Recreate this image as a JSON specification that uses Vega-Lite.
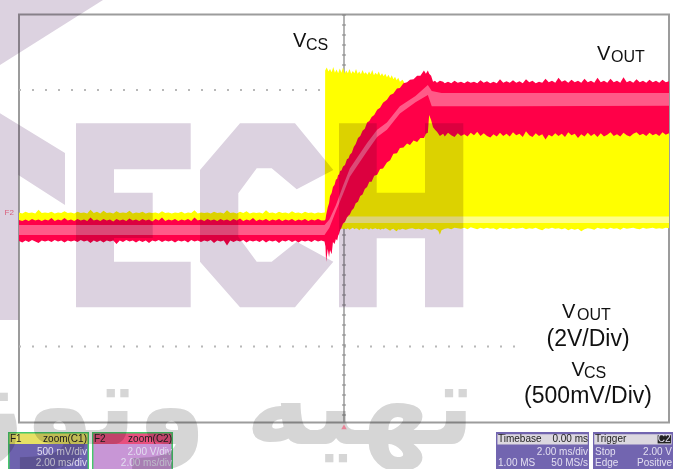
{
"$schema":"https://vega.github.io/schema/vega-lite/v6.json",
"width":650,"height":408,"autosize":"none",
"padding":{"left":19,"top":14.5,"right":7,"bottom":46.5},
"background":"white",
"view":{"stroke":"#9c9c9c","strokeWidth":2},
"datasets":{
"yellow":[
{"t":-10,"hi":0.12,"lo":-0.2},{"t":-9.9,"hi":0.1,"lo":-0.2},{"t":-9.8,"hi":0.13,"lo":-0.2},{"t":-9.7,"hi":0.11,"lo":-0.2},{"t":-9.6,"hi":0.12,"lo":-0.2},{"t":-9.5,"hi":0.1,"lo":-0.2},{"t":-9.4,"hi":0.17,"lo":-0.2},{"t":-9.3,"hi":0.11,"lo":-0.2},{"t":-9.2,"hi":0.12,"lo":-0.2},{"t":-9.1,"hi":0.11,"lo":-0.2},{"t":-9,"hi":0.13,"lo":-0.2},{"t":-8.9,"hi":0.1,"lo":-0.2},{"t":-8.8,"hi":0.12,"lo":-0.2},{"t":-8.7,"hi":0.11,"lo":-0.2},{"t":-8.6,"hi":0.14,"lo":-0.2},{"t":-8.5,"hi":0.11,"lo":-0.2},{"t":-8.4,"hi":0.12,"lo":-0.2},{"t":-8.3,"hi":0.1,"lo":-0.2},{"t":-8.2,"hi":0.13,"lo":-0.2},{"t":-8.1,"hi":0.11,"lo":-0.2},{"t":-8,"hi":0.12,"lo":-0.2},{"t":-7.9,"hi":0.1,"lo":-0.2},{"t":-7.8,"hi":0.17,"lo":-0.2},{"t":-7.7,"hi":0.11,"lo":-0.2},{"t":-7.6,"hi":0.13,"lo":-0.2},{"t":-7.5,"hi":0.1,"lo":-0.2},{"t":-7.4,"hi":0.15,"lo":-0.2},{"t":-7.3,"hi":0.11,"lo":-0.2},{"t":-7.2,"hi":0.12,"lo":-0.2},{"t":-7.1,"hi":0.1,"lo":-0.2},{"t":-7,"hi":0.14,"lo":-0.2},{"t":-6.9,"hi":0.11,"lo":-0.2},{"t":-6.8,"hi":0.12,"lo":-0.2},{"t":-6.7,"hi":0.11,"lo":-0.2},{"t":-6.6,"hi":0.15,"lo":-0.2},{"t":-6.5,"hi":0.1,"lo":-0.2},{"t":-6.4,"hi":0.12,"lo":-0.2},{"t":-6.3,"hi":0.11,"lo":-0.2},{"t":-6.2,"hi":0.13,"lo":-0.2},{"t":-6.1,"hi":0.1,"lo":-0.2},{"t":-6,"hi":0.12,"lo":-0.2},{"t":-5.9,"hi":0.11,"lo":-0.2},{"t":-5.8,"hi":0.12,"lo":-0.2},{"t":-5.7,"hi":0.1,"lo":-0.2},{"t":-5.6,"hi":0.14,"lo":-0.2},{"t":-5.5,"hi":0.11,"lo":-0.2},{"t":-5.4,"hi":0.12,"lo":-0.2},{"t":-5.3,"hi":0.1,"lo":-0.2},{"t":-5.2,"hi":0.12,"lo":-0.2},{"t":-5.1,"hi":0.11,"lo":-0.2},{"t":-5,"hi":0.13,"lo":-0.2},{"t":-4.9,"hi":0.1,"lo":-0.2},{"t":-4.8,"hi":0.12,"lo":-0.2},{"t":-4.7,"hi":0.11,"lo":-0.2},{"t":-4.6,"hi":0.16,"lo":-0.2},{"t":-4.5,"hi":0.1,"lo":-0.2},{"t":-4.4,"hi":0.12,"lo":-0.2},{"t":-4.3,"hi":0.11,"lo":-0.2},{"t":-4.2,"hi":0.12,"lo":-0.2},{"t":-4.1,"hi":0.1,"lo":-0.2},{"t":-4,"hi":0.13,"lo":-0.2},{"t":-3.9,"hi":0.11,"lo":-0.2},{"t":-3.8,"hi":0.12,"lo":-0.2},{"t":-3.7,"hi":0.1,"lo":-0.2},{"t":-3.6,"hi":0.16,"lo":-0.2},{"t":-3.5,"hi":0.11,"lo":-0.2},{"t":-3.4,"hi":0.12,"lo":-0.2},{"t":-3.3,"hi":0.1,"lo":-0.2},{"t":-3.2,"hi":0.13,"lo":-0.2},{"t":-3.1,"hi":0.11,"lo":-0.2},{"t":-3,"hi":0.14,"lo":-0.2},{"t":-2.9,"hi":0.1,"lo":-0.2},{"t":-2.8,"hi":0.12,"lo":-0.2},{"t":-2.7,"hi":0.11,"lo":-0.2},{"t":-2.6,"hi":0.12,"lo":-0.2},{"t":-2.5,"hi":0.1,"lo":-0.2},{"t":-2.4,"hi":0.16,"lo":-0.2},{"t":-2.3,"hi":0.11,"lo":-0.2},{"t":-2.2,"hi":0.12,"lo":-0.2},{"t":-2.1,"hi":0.1,"lo":-0.2},{"t":-2,"hi":0.13,"lo":-0.2},{"t":-1.9,"hi":0.11,"lo":-0.2},{"t":-1.8,"hi":0.12,"lo":-0.2},{"t":-1.7,"hi":0.1,"lo":-0.2},{"t":-1.6,"hi":0.14,"lo":-0.2},{"t":-1.5,"hi":0.11,"lo":-0.2},{"t":-1.4,"hi":0.12,"lo":-0.2},{"t":-1.3,"hi":0.1,"lo":-0.2},{"t":-1.2,"hi":0.13,"lo":-0.2},{"t":-1.1,"hi":0.11,"lo":-0.2},{"t":-1,"hi":0.12,"lo":-0.2},{"t":-0.9,"hi":0.1,"lo":-0.2},{"t":-0.8,"hi":0.12,"lo":-0.2},{"t":-0.7,"hi":0.11,"lo":-0.2},{"t":-0.6,"hi":0.12,"lo":-0.2},
{"t":-0.59,"hi":0.12,"lo":-0.2},{"t":-0.58,"hi":2.9,"lo":-0.2},{"t":-0.53,"hi":2.96,"lo":-0.2},{"t":-0.48,"hi":2.88,"lo":-0.2},{"t":-0.43,"hi":2.93,"lo":-0.2},{"t":-0.38,"hi":2.87,"lo":-0.2},{"t":-0.33,"hi":2.97,"lo":-0.2},{"t":-0.28,"hi":2.86,"lo":-0.2},{"t":-0.23,"hi":2.92,"lo":-0.2},{"t":-0.18,"hi":2.85,"lo":-0.21},{"t":-0.13,"hi":2.94,"lo":-0.2},{"t":-0.08,"hi":2.86,"lo":-0.2},{"t":-0.03,"hi":2.96,"lo":-0.2},{"t":0.02,"hi":2.84,"lo":-0.2},{"t":0.07,"hi":2.9,"lo":-0.21},{"t":0.12,"hi":2.85,"lo":-0.19},{"t":0.17,"hi":2.93,"lo":-0.22},{"t":0.22,"hi":2.84,"lo":-0.2},{"t":0.27,"hi":2.89,"lo":-0.18},{"t":0.32,"hi":2.85,"lo":-0.21},{"t":0.37,"hi":2.93,"lo":-0.19},{"t":0.42,"hi":2.84,"lo":-0.2},{"t":0.47,"hi":2.88,"lo":-0.23},{"t":0.52,"hi":2.83,"lo":-0.19},{"t":0.57,"hi":2.91,"lo":-0.21},{"t":0.62,"hi":2.84,"lo":-0.2},{"t":0.67,"hi":2.87,"lo":-0.19},{"t":0.72,"hi":2.82,"lo":-0.2},{"t":0.77,"hi":2.88,"lo":-0.22},{"t":0.82,"hi":2.83,"lo":-0.19},{"t":0.87,"hi":2.91,"lo":-0.21},{"t":0.92,"hi":2.81,"lo":-0.2},{"t":0.97,"hi":2.86,"lo":-0.19},{"t":1.02,"hi":2.82,"lo":-0.21},{"t":1.07,"hi":2.88,"lo":-0.2},{"t":1.12,"hi":2.8,"lo":-0.22},{"t":1.17,"hi":2.85,"lo":-0.2},{"t":1.22,"hi":2.79,"lo":-0.21},{"t":1.27,"hi":2.84,"lo":-0.19},{"t":1.32,"hi":2.77,"lo":-0.2},{"t":1.37,"hi":2.82,"lo":-0.22},{"t":1.42,"hi":2.75,"lo":-0.24},{"t":1.47,"hi":2.81,"lo":-0.21},{"t":1.52,"hi":2.73,"lo":-0.2},{"t":1.57,"hi":2.78,"lo":-0.23},{"t":1.62,"hi":2.71,"lo":-0.25},{"t":1.67,"hi":2.76,"lo":-0.21},{"t":1.72,"hi":2.68,"lo":-0.22},{"t":1.8,"hi":2.72,"lo":-0.2},{"t":1.9,"hi":2.62,"lo":-0.22},{"t":2,"hi":2.6,"lo":-0.2},{"t":2.1,"hi":2.55,"lo":-0.19},{"t":2.2,"hi":2.3,"lo":-0.21},{"t":2.3,"hi":2.3,"lo":-0.2},{"t":2.4,"hi":2.3,"lo":-0.22},{"t":2.5,"hi":2.3,"lo":-0.19},{"t":2.6,"hi":2.3,"lo":-0.21},{"t":2.7,"hi":2.3,"lo":-0.22},{"t":2.8,"hi":2.3,"lo":-0.2},{"t":2.9,"hi":2.3,"lo":-0.24},{"t":2.95,"hi":2.3,"lo":-0.32},{"t":3,"hi":2.3,"lo":-0.23},{"t":3.1,"hi":2.3,"lo":-0.2},{"t":3.2,"hi":2.3,"lo":-0.19},{"t":3.3,"hi":2.3,"lo":-0.21},{"t":3.4,"hi":2.3,"lo":-0.18},{"t":3.5,"hi":2.3,"lo":-0.19},{"t":3.6,"hi":2.3,"lo":-0.2},{"t":3.7,"hi":2.3,"lo":-0.18},{"t":3.8,"hi":2.3,"lo":-0.21},{"t":3.9,"hi":2.3,"lo":-0.17},{"t":4,"hi":2.3,"lo":-0.19},{"t":4.1,"hi":2.3,"lo":-0.21},{"t":4.2,"hi":2.3,"lo":-0.18},{"t":4.3,"hi":2.3,"lo":-0.2},{"t":4.4,"hi":2.3,"lo":-0.18},{"t":4.5,"hi":2.3,"lo":-0.2},{"t":4.6,"hi":2.3,"lo":-0.19},{"t":4.7,"hi":2.3,"lo":-0.22},{"t":4.8,"hi":2.3,"lo":-0.18},{"t":4.9,"hi":2.3,"lo":-0.2},{"t":5,"hi":2.3,"lo":-0.19},{"t":5.1,"hi":2.3,"lo":-0.21},{"t":5.2,"hi":2.3,"lo":-0.18},{"t":5.3,"hi":2.3,"lo":-0.2},{"t":5.4,"hi":2.3,"lo":-0.19},{"t":5.5,"hi":2.3,"lo":-0.18},{"t":5.6,"hi":2.3,"lo":-0.21},{"t":5.7,"hi":2.3,"lo":-0.19},{"t":5.8,"hi":2.3,"lo":-0.2},{"t":5.9,"hi":2.3,"lo":-0.18},{"t":6,"hi":2.3,"lo":-0.21},{"t":6.1,"hi":2.3,"lo":-0.23},{"t":6.2,"hi":2.3,"lo":-0.19},{"t":6.3,"hi":2.3,"lo":-0.2},{"t":6.4,"hi":2.3,"lo":-0.18},{"t":6.5,"hi":2.3,"lo":-0.2},{"t":6.6,"hi":2.3,"lo":-0.19},{"t":6.7,"hi":2.3,"lo":-0.21},{"t":6.8,"hi":2.3,"lo":-0.19},{"t":6.9,"hi":2.3,"lo":-0.23},{"t":7,"hi":2.3,"lo":-0.2},{"t":7.1,"hi":2.3,"lo":-0.22},{"t":7.2,"hi":2.3,"lo":-0.2},{"t":7.3,"hi":2.3,"lo":-0.25},{"t":7.4,"hi":2.3,"lo":-0.21},{"t":7.5,"hi":2.3,"lo":-0.19},{"t":7.6,"hi":2.3,"lo":-0.2},{"t":7.7,"hi":2.3,"lo":-0.22},{"t":7.8,"hi":2.3,"lo":-0.18},{"t":7.9,"hi":2.3,"lo":-0.2},{"t":8,"hi":2.3,"lo":-0.19},{"t":8.1,"hi":2.3,"lo":-0.21},{"t":8.2,"hi":2.3,"lo":-0.18},{"t":8.3,"hi":2.3,"lo":-0.2},{"t":8.4,"hi":2.3,"lo":-0.19},{"t":8.5,"hi":2.3,"lo":-0.22},{"t":8.6,"hi":2.3,"lo":-0.18},{"t":8.7,"hi":2.3,"lo":-0.2},{"t":8.8,"hi":2.3,"lo":-0.19},{"t":8.9,"hi":2.3,"lo":-0.18},{"t":9,"hi":2.3,"lo":-0.2},{"t":9.1,"hi":2.3,"lo":-0.21},{"t":9.2,"hi":2.3,"lo":-0.18},{"t":9.3,"hi":2.3,"lo":-0.2},{"t":9.4,"hi":2.3,"lo":-0.19},{"t":9.5,"hi":2.3,"lo":-0.18},{"t":9.6,"hi":2.3,"lo":-0.2},{"t":9.7,"hi":2.3,"lo":-0.19},{"t":9.8,"hi":2.3,"lo":-0.2},{"t":9.9,"hi":2.3,"lo":-0.18},{"t":10,"hi":2.3,"lo":-0.19}],
"paleBand":[{"t":-0.1,"t2":10,"v":0.04,"v2":-0.09}],
"red":[
{"t":-10,"hi":-0.03,"lo":-0.44},{"t":-9.9,"hi":-0.05,"lo":-0.47},{"t":-9.8,"hi":-0.02,"lo":-0.43},{"t":-9.7,"hi":-0.05,"lo":-0.46},{"t":-9.6,"hi":-0.01,"lo":-0.42},{"t":-9.5,"hi":-0.04,"lo":-0.45},{"t":-9.4,"hi":-0.02,"lo":-0.48},{"t":-9.3,"hi":-0.05,"lo":-0.43},{"t":-9.2,"hi":-0.02,"lo":-0.45},{"t":-9.1,"hi":-0.04,"lo":-0.43},{"t":-9,"hi":0.01,"lo":-0.46},{"t":-8.9,"hi":-0.05,"lo":-0.42},{"t":-8.8,"hi":-0.02,"lo":-0.45},{"t":-8.7,"hi":-0.04,"lo":-0.43},{"t":-8.6,"hi":0.01,"lo":-0.47},{"t":-8.5,"hi":-0.04,"lo":-0.43},{"t":-8.4,"hi":-0.02,"lo":-0.45},{"t":-8.3,"hi":-0.05,"lo":-0.43},{"t":-8.2,"hi":-0.01,"lo":-0.46},{"t":-8.1,"hi":-0.04,"lo":-0.42},{"t":-8,"hi":-0.02,"lo":-0.45},{"t":-7.9,"hi":-0.05,"lo":-0.43},{"t":-7.8,"hi":0.02,"lo":-0.48},{"t":-7.7,"hi":-0.04,"lo":-0.43},{"t":-7.6,"hi":-0.02,"lo":-0.46},{"t":-7.5,"hi":-0.05,"lo":-0.43},{"t":-7.4,"hi":-0.01,"lo":-0.47},{"t":-7.3,"hi":-0.04,"lo":-0.43},{"t":-7.2,"hi":-0.02,"lo":-0.45},{"t":-7.1,"hi":-0.06,"lo":-0.43},{"t":-7,"hi":-0.01,"lo":-0.5},{"t":-6.9,"hi":-0.04,"lo":-0.43},{"t":-6.8,"hi":-0.02,"lo":-0.46},{"t":-6.7,"hi":-0.05,"lo":-0.42},{"t":-6.6,"hi":0,"lo":-0.45},{"t":-6.5,"hi":-0.04,"lo":-0.43},{"t":-6.4,"hi":-0.02,"lo":-0.47},{"t":-6.3,"hi":-0.05,"lo":-0.43},{"t":-6.2,"hi":-0.01,"lo":-0.46},{"t":-6.1,"hi":-0.04,"lo":-0.43},{"t":-6,"hi":-0.02,"lo":-0.48},{"t":-5.9,"hi":-0.06,"lo":-0.43},{"t":-5.8,"hi":-0.01,"lo":-0.45},{"t":-5.7,"hi":-0.04,"lo":-0.42},{"t":-5.6,"hi":0.02,"lo":-0.46},{"t":-5.5,"hi":-0.05,"lo":-0.43},{"t":-5.4,"hi":-0.02,"lo":-0.45},{"t":-5.3,"hi":-0.04,"lo":-0.43},{"t":-5.2,"hi":-0.01,"lo":-0.47},{"t":-5.1,"hi":-0.05,"lo":-0.43},{"t":-5,"hi":-0.02,"lo":-0.45},{"t":-4.9,"hi":-0.04,"lo":-0.43},{"t":-4.8,"hi":-0.01,"lo":-0.47},{"t":-4.7,"hi":-0.05,"lo":-0.42},{"t":-4.6,"hi":0.02,"lo":-0.45},{"t":-4.5,"hi":-0.04,"lo":-0.43},{"t":-4.4,"hi":-0.02,"lo":-0.46},{"t":-4.3,"hi":-0.05,"lo":-0.43},{"t":-4.2,"hi":-0.01,"lo":-0.45},{"t":-4.1,"hi":-0.04,"lo":-0.42},{"t":-4,"hi":-0.02,"lo":-0.48},{"t":-3.9,"hi":-0.05,"lo":-0.43},{"t":-3.8,"hi":-0.01,"lo":-0.45},{"t":-3.7,"hi":-0.04,"lo":-0.43},{"t":-3.6,"hi":-0.02,"lo":-0.53},{"t":-3.5,"hi":-0.05,"lo":-0.43},{"t":-3.4,"hi":-0.01,"lo":-0.46},{"t":-3.3,"hi":-0.04,"lo":-0.43},{"t":-3.2,"hi":0,"lo":-0.45},{"t":-3.1,"hi":-0.05,"lo":-0.42},{"t":-3,"hi":-0.02,"lo":-0.47},{"t":-2.9,"hi":-0.04,"lo":-0.43},{"t":-2.8,"hi":0.01,"lo":-0.45},{"t":-2.7,"hi":-0.05,"lo":-0.43},{"t":-2.6,"hi":-0.02,"lo":-0.46},{"t":-2.5,"hi":-0.04,"lo":-0.42},{"t":-2.4,"hi":-0.01,"lo":-0.47},{"t":-2.3,"hi":-0.05,"lo":-0.43},{"t":-2.2,"hi":-0.02,"lo":-0.45},{"t":-2.1,"hi":-0.04,"lo":-0.43},{"t":-2,"hi":-0.01,"lo":-0.48},{"t":-1.9,"hi":-0.05,"lo":-0.43},{"t":-1.8,"hi":-0.02,"lo":-0.45},{"t":-1.7,"hi":-0.04,"lo":-0.42},{"t":-1.6,"hi":-0.01,"lo":-0.46},{"t":-1.5,"hi":-0.05,"lo":-0.43},{"t":-1.4,"hi":-0.02,"lo":-0.47},{"t":-1.3,"hi":-0.04,"lo":-0.43},{"t":-1.2,"hi":-0.01,"lo":-0.45},{"t":-1.1,"hi":-0.05,"lo":-0.43},{"t":-1,"hi":-0.02,"lo":-0.46},{"t":-0.9,"hi":-0.04,"lo":-0.42},{"t":-0.8,"hi":-0.01,"lo":-0.45},{"t":-0.7,"hi":-0.04,"lo":-0.43},
{"t":-0.6,"hi":-0.04,"lo":-0.45},{"t":-0.57,"hi":-0.02,"lo":-0.55},{"t":-0.55,"hi":0.07,"lo":-0.85},{"t":-0.5,"hi":0.22,"lo":-0.6},{"t":-0.46,"hi":0.3,"lo":-0.76},{"t":-0.43,"hi":0.44,"lo":-0.62},{"t":-0.38,"hi":0.5,"lo":-0.7},{"t":-0.34,"hi":0.62,"lo":-0.46},{"t":-0.29,"hi":0.66,"lo":-0.5},{"t":-0.25,"hi":0.76,"lo":-0.4},{"t":-0.21,"hi":0.78,"lo":-0.43},{"t":-0.18,"hi":0.86,"lo":-0.34},{"t":-0.15,"hi":0.86,"lo":-0.3},{"t":-0.12,"hi":0.93,"lo":-0.23},{"t":-0.08,"hi":0.94,"lo":-0.18},{"t":-0.03,"hi":1.02,"lo":-0.1},{"t":0.03,"hi":1.05,"lo":-0.07},{"t":0.09,"hi":1.16,"lo":0.02},{"t":0.14,"hi":1.18,"lo":0.06},{"t":0.18,"hi":1.25,"lo":0.08},{"t":0.24,"hi":1.29,"lo":0.16},{"t":0.3,"hi":1.4,"lo":0.2},{"t":0.36,"hi":1.46,"lo":0.3},{"t":0.43,"hi":1.58,"lo":0.33},{"t":0.5,"hi":1.62,"lo":0.44},{"t":0.57,"hi":1.72,"lo":0.47},{"t":0.64,"hi":1.76,"lo":0.58},{"t":0.71,"hi":1.88,"lo":0.62},{"t":0.78,"hi":1.91,"lo":0.72},{"t":0.85,"hi":1.99,"lo":0.72},{"t":0.93,"hi":2.03,"lo":0.84},{"t":1.02,"hi":2.13,"lo":0.86},{"t":1.11,"hi":2.17,"lo":0.97},{"t":1.2,"hi":2.27,"lo":0.98},{"t":1.32,"hi":2.33,"lo":1.1},{"t":1.42,"hi":2.42,"lo":1.14},{"t":1.52,"hi":2.45,"lo":1.27},{"t":1.63,"hi":2.55,"lo":1.28},{"t":1.72,"hi":2.56,"lo":1.38},{"t":1.83,"hi":2.65,"lo":1.39},{"t":1.94,"hi":2.67,"lo":1.47},{"t":2.03,"hi":2.72,"lo":1.44},{"t":2.14,"hi":2.73,"lo":1.53},{"t":2.25,"hi":2.8,"lo":1.5},{"t":2.35,"hi":2.8,"lo":1.58},{"t":2.46,"hi":2.9,"lo":1.58},{"t":2.52,"hi":2.84,"lo":1.66},{"t":2.58,"hi":2.9,"lo":1.68},{"t":2.62,"hi":2.84,"lo":2.03},{"t":2.68,"hi":2.8,"lo":1.93},{"t":2.74,"hi":2.68,"lo":1.79},{"t":2.8,"hi":2.7,"lo":1.74},{"t":2.86,"hi":2.66,"lo":1.7},{"t":2.95,"hi":2.7,"lo":1.62},{"t":3.05,"hi":2.68,"lo":1.66},
{"t":3.1,"hi":2.65,"lo":1.61},{"t":3.2,"hi":2.68,"lo":1.68},{"t":3.3,"hi":2.65,"lo":1.63},{"t":3.4,"hi":2.7,"lo":1.6},{"t":3.5,"hi":2.66,"lo":1.67},{"t":3.6,"hi":2.68,"lo":1.62},{"t":3.7,"hi":2.65,"lo":1.65},{"t":3.8,"hi":2.69,"lo":1.61},{"t":3.9,"hi":2.66,"lo":1.68},{"t":4,"hi":2.68,"lo":1.63},{"t":4.1,"hi":2.65,"lo":1.7},{"t":4.2,"hi":2.71,"lo":1.62},{"t":4.3,"hi":2.66,"lo":1.67},{"t":4.4,"hi":2.69,"lo":1.62},{"t":4.5,"hi":2.65,"lo":1.59},{"t":4.6,"hi":2.68,"lo":1.65},{"t":4.7,"hi":2.65,"lo":1.61},{"t":4.8,"hi":2.73,"lo":1.68},{"t":4.9,"hi":2.66,"lo":1.62},{"t":5,"hi":2.69,"lo":1.66},{"t":5.1,"hi":2.66,"lo":1.61},{"t":5.2,"hi":2.71,"lo":1.69},{"t":5.3,"hi":2.66,"lo":1.63},{"t":5.4,"hi":2.69,"lo":1.66},{"t":5.5,"hi":2.65,"lo":1.6},{"t":5.6,"hi":2.73,"lo":1.71},{"t":5.7,"hi":2.67,"lo":1.63},{"t":5.8,"hi":2.7,"lo":1.6},{"t":5.9,"hi":2.65,"lo":1.67},{"t":6,"hi":2.68,"lo":1.62},{"t":6.1,"hi":2.66,"lo":1.65},{"t":6.2,"hi":2.74,"lo":1.55},{"t":6.3,"hi":2.67,"lo":1.64},{"t":6.4,"hi":2.7,"lo":1.61},{"t":6.5,"hi":2.66,"lo":1.67},{"t":6.6,"hi":2.76,"lo":1.62},{"t":6.7,"hi":2.68,"lo":1.66},{"t":6.8,"hi":2.71,"lo":1.6},{"t":6.9,"hi":2.66,"lo":1.69},{"t":7,"hi":2.72,"lo":1.63},{"t":7.1,"hi":2.67,"lo":1.66},{"t":7.2,"hi":2.7,"lo":1.58},{"t":7.3,"hi":2.66,"lo":1.65},{"t":7.4,"hi":2.74,"lo":1.61},{"t":7.5,"hi":2.67,"lo":1.68},{"t":7.6,"hi":2.7,"lo":1.62},{"t":7.7,"hi":2.66,"lo":1.66},{"t":7.8,"hi":2.76,"lo":1.6},{"t":7.9,"hi":2.67,"lo":1.67},{"t":8,"hi":2.7,"lo":1.61},{"t":8.1,"hi":2.66,"lo":1.64},{"t":8.2,"hi":2.74,"lo":1.69},{"t":8.3,"hi":2.67,"lo":1.62},{"t":8.4,"hi":2.7,"lo":1.65},{"t":8.5,"hi":2.66,"lo":1.61},{"t":8.6,"hi":2.77,"lo":1.68},{"t":8.7,"hi":2.67,"lo":1.63},{"t":8.8,"hi":2.7,"lo":1.61},{"t":8.9,"hi":2.66,"lo":1.66},{"t":9,"hi":2.73,"lo":1.69},{"t":9.1,"hi":2.67,"lo":1.63},{"t":9.2,"hi":2.7,"lo":1.66},{"t":9.3,"hi":2.66,"lo":1.62},{"t":9.4,"hi":2.72,"lo":1.68},{"t":9.5,"hi":2.67,"lo":1.63},{"t":9.6,"hi":2.7,"lo":1.66},{"t":9.7,"hi":2.66,"lo":1.62},{"t":9.8,"hi":2.72,"lo":1.69},{"t":9.9,"hi":2.67,"lo":1.64},{"t":10,"hi":2.69,"lo":1.67}],
"pink":[{"t":-10,"hi":-0.127,"lo":-0.323},{"t":-0.6,"hi":-0.127,"lo":-0.323},{"t":-0.45,"hi":-0.02,"lo":-0.18},{"t":-0.25,"hi":0.26,"lo":0.14},{"t":-0.03,"hi":0.64,"lo":0.48},{"t":0.18,"hi":0.98,"lo":0.82},{"t":0.71,"hi":1.48,"lo":1.32},{"t":1.02,"hi":1.74,"lo":1.6},{"t":1.32,"hi":1.88,"lo":1.74},{"t":1.72,"hi":2.2,"lo":2.06},{"t":2.2,"hi":2.4,"lo":2.28},{"t":2.58,"hi":2.62,"lo":2.42},{"t":2.7,"hi":2.5,"lo":2.2},{"t":3,"hi":2.46,"lo":2.2},{"t":10,"hi":2.46,"lo":2.21}],
"shapes":[
{"s":"corner","i":1,"t":-10.585,"v":4.284},{"s":"corner","i":2,"t":-7.415,"v":4.284},{"s":"corner","i":3,"t":-10.585,"v":3.01},
{"s":"N","i":1,"t":-10.585,"v":2.063},{"s":"N","i":2,"t":-8.585,"v":1.284},{"s":"N","i":3,"t":-8.585,"v":0.265},{"s":"N","i":4,"t":-10.02,"v":0.853},{"s":"N","i":5,"t":-10.02,"v":-1.99},{"s":"N","i":6,"t":-10.585,"v":-1.99},
{"s":"E","i":1,"t":-8.246,"v":1.867},{"s":"E","i":2,"t":-4.717,"v":1.867},{"s":"E","i":3,"t":-4.717,"v":0.965},{"s":"E","i":4,"t":-7.077,"v":0.965},{"s":"E","i":5,"t":-7.077,"v":0.506},{"s":"E","i":6,"t":-5.886,"v":0.506},{"s":"E","i":7,"t":-5.886,"v":-0.382},{"s":"E","i":8,"t":-7.077,"v":-0.382},{"s":"E","i":9,"t":-7.077,"v":-0.847},{"s":"E","i":10,"t":-4.717,"v":-0.847},{"s":"E","i":11,"t":-4.717,"v":-1.741},{"s":"E","i":12,"t":-8.246,"v":-1.741},
{"s":"C","i":1,"t":-3.2,"v":1.867},{"s":"C","i":2,"t":-1.508,"v":1.867},{"s":"C","i":3,"t":-0.329,"v":0.951},{"s":"C","i":4,"t":-1.455,"v":0.573},{"s":"C","i":5,"t":-2.225,"v":0.984},{"s":"C","i":6,"t":-2.686,"v":0.984},{"s":"C","i":7,"t":-3.252,"v":0.494},{"s":"C","i":8,"t":-3.252,"v":-0.357},{"s":"C","i":9,"t":-2.686,"v":-0.847},{"s":"C","i":10,"t":-2.225,"v":-0.847},{"s":"C","i":11,"t":-1.455,"v":-0.455},{"s":"C","i":12,"t":-0.329,"v":-0.847},{"s":"C","i":13,"t":-1.508,"v":-1.741},{"s":"C","i":14,"t":-3.2,"v":-1.741},{"s":"C","i":15,"t":-4.431,"v":-0.847},{"s":"C","i":16,"t":-4.431,"v":0.951},
{"s":"H","i":1,"t":-0.154,"v":1.867},{"s":"H","i":2,"t":1.006,"v":1.867},{"s":"H","i":3,"t":1.006,"v":0.506},{"s":"H","i":4,"t":2.492,"v":0.506},{"s":"H","i":5,"t":2.492,"v":1.867},{"s":"H","i":6,"t":3.671,"v":1.867},{"s":"H","i":7,"t":3.671,"v":-1.741},{"s":"H","i":8,"t":2.492,"v":-1.741},{"s":"H","i":9,"t":2.492,"v":-0.388},{"s":"H","i":10,"t":1.006,"v":-0.388},{"s":"H","i":11,"t":1.006,"v":-1.741},{"s":"H","i":12,"t":-0.154,"v":-1.741}],
"panels":[
{"part":"frame","t":-10.338,"t2":-7.846,"v":-4.186,"v2":-4.95},{"part":"frame","t":-7.754,"t2":-5.262,"v":-4.186,"v2":-4.95},
{"part":"F1 body","t":-10.29,"t2":-7.89,"v":-4.42,"v2":-4.95},{"part":"F1 head","t":-10.29,"t2":-7.89,"v":-4.216,"v2":-4.42},
{"part":"F2 body","t":-7.71,"t2":-5.31,"v":-4.42,"v2":-4.95},{"part":"F2 head","t":-7.71,"t2":-5.31,"v":-4.216,"v2":-4.42},
{"part":"scope","t":4.677,"t2":7.538,"v":-4.186,"v2":-4.95},{"part":"scope","t":7.662,"t2":10.123,"v":-4.186,"v2":-4.95},
{"part":"grey","t":4.72,"t2":7.5,"v":-4.23,"v2":-4.43},{"part":"grey","t":7.7,"t2":10.08,"v":-4.23,"v2":-4.43},
{"part":"chip","t":9.65,"t2":10.06,"v":-4.25,"v2":-4.41}],
"labelsL":[
{"t":-10.277,"v":-4.382,"label":"F1","ink":"dark"},{"t":-7.692,"v":-4.382,"label":"F2","ink":"dark"},{"t":4.738,"v":-4.382,"label":"Timebase","ink":"dark"},{"t":7.723,"v":-4.382,"label":"Trigger","ink":"dark"},{"t":4.738,"v":-4.853,"label":"1.00 MS","ink":"light"},{"t":7.723,"v":-4.637,"label":"Stop","ink":"light"},{"t":7.723,"v":-4.853,"label":"Edge","ink":"light"}],
"labelsR":[
{"t":-7.908,"v":-4.382,"label":"zoom(C1)","ink":"dark"},{"t":-5.292,"v":-4.382,"label":"zoom(C2)","ink":"dark"},{"t":7.508,"v":-4.382,"label":"0.00 ms","ink":"dark"},{"t":-7.908,"v":-4.637,"label":"500 mV/div","ink":"light"},{"t":-7.908,"v":-4.853,"label":"2.00 ms/div","ink":"light"},{"t":-5.292,"v":-4.637,"label":"2.00 V/div","ink":"light"},{"t":-5.292,"v":-4.853,"label":"2.00 ms/div","ink":"light"},{"t":7.508,"v":-4.637,"label":"2.00 ms/div","ink":"light"},{"t":7.508,"v":-4.853,"label":"50 MS/s","ink":"light"},{"t":10.092,"v":-4.637,"label":"2.00 V","ink":"light"},{"t":10.092,"v":-4.853,"label":"Positive","ink":"light"},{"t":10.05,"v":-4.382,"label":"C2","ink":"light"}],
"bigText":[{"t":-1.569,"v":3.363,"label":"V"},{"t":7.785,"v":3.108,"label":"V"},{"t":6.708,"v":-1.951,"label":"V"},{"t":7,"v":-3.088,"label":"V"}],
"subText":[{"t":-1.169,"v":3.304,"label":"CS"},{"t":8.215,"v":3.06,"label":"OUT"},{"t":7.17,"v":-1.99,"label":"OUT"},{"t":7.385,"v":-3.127,"label":"CS"}],
"divText":[{"t":7.508,"v":-2.5,"label":"(2V/Div)"},{"t":7.508,"v":-3.618,"label":"(500mV/Div)"}]
},
"layer":[
{"data":{"values":[{"t":5.415,"t2":9.63,"v":-1.46,"v2":-3.873},{"t":7.754,"t2":9.569,"v":3.539,"v2":2.892}]},
"mark":{"type":"rect","fill":"white"},
"encoding":{
"x":{"field":"t","type":"quantitative","scale":{"domain":[-10,10]},"axis":{"values":[-8,-6,-4,-2,0,2,4,6,8],"grid":true,"labels":false,"ticks":false,"domain":false,"title":null,"gridColor":"#bdbdbd","gridWidth":1.3}},
"y":{"field":"v","type":"quantitative","scale":{"domain":[-4,4]},"axis":{"values":[-3,-2,-1,0,1,2,3],"grid":true,"labels":false,"ticks":false,"domain":false,"title":null,"gridColor":"#dadada","gridWidth":1.6}},
"x2":{"field":"t2"},"y2":{"field":"v2"}}},
{"data":{"values":[{"t":-10,"t2":5.4,"v":2.52},{"t":-10,"t2":5.4,"v":-2.51}]},
"mark":{"type":"rule","color":"#b8b8b8","strokeWidth":2,"strokeDash":[2,11]},
"encoding":{"x":{"field":"t","type":"quantitative","scale":{"domain":[-10,10]},"axis":null},"x2":{"field":"t2"},"y":{"field":"v","type":"quantitative","scale":{"domain":[-4,4]},"axis":null}}},
{"data":{"values":[{"t":0,"v":4,"v2":-4}]},
"mark":{"type":"rule","color":"#8a8a8a","strokeWidth":1.3},
"encoding":{"x":{"field":"t","type":"quantitative","scale":{"domain":[-10,10]},"axis":null},"y":{"field":"v","type":"quantitative","scale":{"domain":[-4,4]},"axis":null},"y2":{"field":"v2"}}},
{"data":{"values":[{"t":0,"v":4,"v2":-4}]},
"mark":{"type":"rule","color":"#888888","strokeWidth":4,"strokeDash":[1,9]},
"encoding":{"x":{"field":"t","type":"quantitative","scale":{"domain":[-10,10]},"axis":null},"y":{"field":"v","type":"quantitative","scale":{"domain":[-4,4]},"axis":null},"y2":{"field":"v2"}}},
{"data":{"name":"yellow"},"mark":{"type":"area","color":"#ffff00","interpolate":"linear"},
"encoding":{"x":{"field":"t","type":"quantitative","scale":{"domain":[-10,10]},"axis":null},"y":{"field":"hi","type":"quantitative","scale":{"domain":[-4,4]},"axis":null},"y2":{"field":"lo"}}},
{"data":{"name":"paleBand"},"mark":{"type":"rect","fill":"#ffff88"},
"encoding":{"x":{"field":"t","type":"quantitative","scale":{"domain":[-10,10]},"axis":null},"x2":{"field":"t2"},"y":{"field":"v","type":"quantitative","scale":{"domain":[-4,4]},"axis":null},"y2":{"field":"v2"}}},
{"data":{"name":"red"},"mark":{"type":"area","color":"#ff0048","interpolate":"linear"},
"encoding":{"x":{"field":"t","type":"quantitative","scale":{"domain":[-10,10]},"axis":null},"y":{"field":"hi","type":"quantitative","scale":{"domain":[-4,4]},"axis":null},"y2":{"field":"lo"}}},
{"data":{"name":"pink"},"mark":{"type":"area","color":"#ff5a88","interpolate":"linear"},
"encoding":{"x":{"field":"t","type":"quantitative","scale":{"domain":[-10,10]},"axis":null},"y":{"field":"hi","type":"quantitative","scale":{"domain":[-4,4]},"axis":null},"y2":{"field":"lo"}}},
{"data":{"name":"panels"},"mark":{"type":"rect"},
"encoding":{"x":{"field":"t","type":"quantitative","scale":{"domain":[-10,10]},"axis":null},"x2":{"field":"t2"},"y":{"field":"v","type":"quantitative","scale":{"domain":[-4,4]},"axis":null},"y2":{"field":"v2"},
"color":{"field":"part","type":"nominal","legend":null,"sort":null,"scale":{"domain":["frame","F1 body","F1 head","F2 body","F2 head","scope","grey","chip"],"range":["#45c86a","#6d62ae","#e6e064","#c896d6","#e8507e","#7265b0","#dcd8e0","#222222"]}}}},
{"data":{"name":"labelsL"},"mark":{"type":"text","align":"left","baseline":"alphabetic","font":"Liberation Sans","fontSize":10},
"encoding":{"x":{"field":"t","type":"quantitative","scale":{"domain":[-10,10]},"axis":null},"y":{"field":"v","type":"quantitative","scale":{"domain":[-4,4]},"axis":null},"text":{"field":"label"},
"color":{"field":"ink","type":"nominal","legend":null,"scale":{"domain":["dark","light"],"range":["#222222","#e2def0"]}}}},
{"data":{"name":"labelsR"},"mark":{"type":"text","align":"right","baseline":"alphabetic","font":"Liberation Sans","fontSize":10},
"encoding":{"x":{"field":"t","type":"quantitative","scale":{"domain":[-10,10]},"axis":null},"y":{"field":"v","type":"quantitative","scale":{"domain":[-4,4]},"axis":null},"text":{"field":"label"},
"color":{"field":"ink","type":"nominal","legend":null,"scale":{"domain":["dark","light"],"range":["#222222","#e2def0"]}}}},
{"data":{"name":"shapes"},"mark":{"type":"line","fill":"#dcd2e0","strokeWidth":0,"blend":"multiply"},
"encoding":{"x":{"field":"t","type":"quantitative","scale":{"domain":[-10,10]},"axis":null},"y":{"field":"v","type":"quantitative","scale":{"domain":[-4,4]},"axis":null},"detail":{"field":"s"},"order":{"field":"i","type":"quantitative"}}},
{"data":{"values":[{"t":4.03,"v":-4.42,"label":"تهیه وتوزیع قط"}]},
"mark":{"type":"text","align":"right","baseline":"alphabetic","font":"DejaVu Sans","fontWeight":"bold","fontSize":112,"color":"#d6d6d6","blend":"multiply"},
"encoding":{"x":{"field":"t","type":"quantitative","scale":{"domain":[-10,10]},"axis":null},"y":{"field":"v","type":"quantitative","scale":{"domain":[-4,4]},"axis":null},"text":{"field":"label"}}},
{"data":{"values":[{"t":-10.3,"v":0.07,"label":"F2"}]},
"mark":{"type":"text","align":"center","baseline":"alphabetic","font":"Liberation Sans","fontSize":8,"color":"#d9607c"},
"encoding":{"x":{"field":"t","type":"quantitative","scale":{"domain":[-10,10]},"axis":null},"y":{"field":"v","type":"quantitative","scale":{"domain":[-4,4]},"axis":null},"text":{"field":"label"}}},
{"data":{"values":[{"t":0,"v":-4.085}]},
"mark":{"type":"point","shape":"triangle-up","filled":true,"size":30,"color":"#f0607c"},
"encoding":{"x":{"field":"t","type":"quantitative","scale":{"domain":[-10,10]},"axis":null},"y":{"field":"v","type":"quantitative","scale":{"domain":[-4,4]},"axis":null}}},
{"data":{"name":"bigText"},"mark":{"type":"text","align":"left","baseline":"alphabetic","font":"Liberation Sans","fontSize":20,"color":"#111111"},
"encoding":{"x":{"field":"t","type":"quantitative","scale":{"domain":[-10,10]},"axis":null},"y":{"field":"v","type":"quantitative","scale":{"domain":[-4,4]},"axis":null},"text":{"field":"label"}}},
{"data":{"name":"subText"},"mark":{"type":"text","align":"left","baseline":"alphabetic","font":"Liberation Sans","fontSize":16,"color":"#111111"},
"encoding":{"x":{"field":"t","type":"quantitative","scale":{"domain":[-10,10]},"axis":null},"y":{"field":"v","type":"quantitative","scale":{"domain":[-4,4]},"axis":null},"text":{"field":"label"}}},
{"data":{"name":"divText"},"mark":{"type":"text","align":"center","baseline":"alphabetic","font":"Liberation Sans","fontSize":23,"color":"#111111"},
"encoding":{"x":{"field":"t","type":"quantitative","scale":{"domain":[-10,10]},"axis":null},"y":{"field":"v","type":"quantitative","scale":{"domain":[-4,4]},"axis":null},"text":{"field":"label"}}}
],
"resolve":{"scale":{"color":"independent"}}
}
